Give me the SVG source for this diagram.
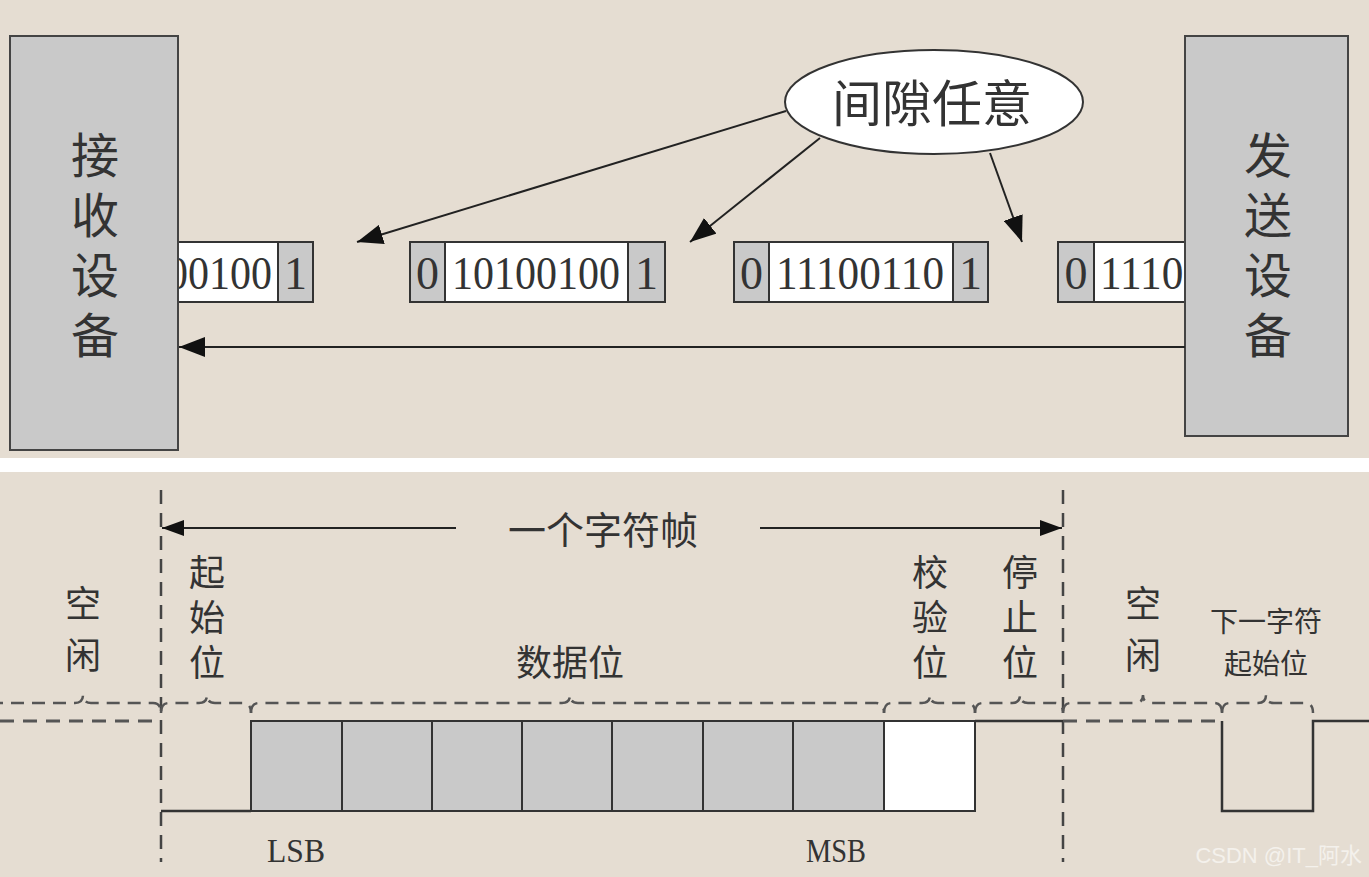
<svg xmlns="http://www.w3.org/2000/svg" width="1369" height="877" viewBox="0 0 1369 877">
<defs>
<marker id="ahb" viewBox="0 0 10 10" refX="10" refY="5" markerWidth="26" markerHeight="20" markerUnits="userSpaceOnUse" orient="auto" preserveAspectRatio="none">
<path d="M0,0 L10,5 L0,10 z" fill="#111"/>
</marker>
<marker id="ahs" viewBox="0 0 10 10" refX="10" refY="5" markerWidth="22" markerHeight="16" markerUnits="userSpaceOnUse" orient="auto" preserveAspectRatio="none">
<path d="M0,0 L10,5 L0,10 z" fill="#111"/>
</marker>
</defs>
<style>
.bg{fill:#e5ddd2}
.dev{fill:#c9c9c9;stroke:#444;stroke-width:2}
.cell{fill:#c9c9c9;stroke:#333;stroke-width:2}
.wcell{fill:#fff;stroke:#333;stroke-width:2}
.cjk{font-family:"Noto Sans CJK SC","Noto Sans CJK JP",sans-serif;fill:#333;text-anchor:middle;dominant-baseline:central}
.vt{font-family:"Noto Sans CJK SC","Noto Sans CJK JP",sans-serif;fill:#333;writing-mode:vertical-rl;text-anchor:start}
.dig{font-family:"Liberation Serif",serif;fill:#333;font-size:46px}
.ln{stroke:#222;stroke-width:2;fill:none}
.dash{stroke:#555;stroke-width:3;fill:none;stroke-dasharray:14 9}
.vdash{stroke:#444;stroke-width:2.5;fill:none;stroke-dasharray:14 9}
.brace{stroke:#555;stroke-width:2.5;fill:none;stroke-dasharray:13 8}
.sig{stroke:#333;stroke-width:2.5;fill:none}
.gcell{fill:#c9c9c9;stroke:#333;stroke-width:2}
</style>
<rect x="0" y="0" width="1369" height="877" fill="#ffffff"/>
<rect class="bg" x="0" y="0" width="1369" height="458"/>
<rect class="bg" x="0" y="472" width="1369" height="405"/>

<g id="frame1">
<rect class="wcell" x="170" y="242" width="108" height="60"/>
<text class="dig" x="272" y="289" text-anchor="end" textLength="105" lengthAdjust="spacingAndGlyphs">00100</text>
<rect class="cell" x="278" y="242" width="35" height="60"/>
<text class="dig" x="295.5" y="289" text-anchor="middle">1</text>
</g>
<g id="frame2">
<rect class="wcell" x="410" y="242" width="255" height="60"/>
<rect class="cell" x="410" y="242" width="35" height="60"/>
<rect class="cell" x="628" y="242" width="37" height="60"/>
<text class="dig" x="427.5" y="289" text-anchor="middle">0</text>
<text class="dig" x="452" y="289" textLength="168" lengthAdjust="spacingAndGlyphs">10100100</text>
<text class="dig" x="646.5" y="289" text-anchor="middle">1</text>
</g>
<g id="frame3">
<rect class="wcell" x="734" y="242" width="254" height="60"/>
<rect class="cell" x="734" y="242" width="35" height="60"/>
<rect class="cell" x="953" y="242" width="35" height="60"/>
<text class="dig" x="751.5" y="289" text-anchor="middle">0</text>
<text class="dig" x="776" y="289" textLength="168" lengthAdjust="spacingAndGlyphs">11100110</text>
<text class="dig" x="970.5" y="289" text-anchor="middle">1</text>
</g>
<g id="frame4">
<rect class="wcell" x="1058" y="242" width="135" height="60"/>
<rect class="cell" x="1058" y="242" width="36" height="60"/>
<text class="dig" x="1076" y="289" text-anchor="middle">0</text>
<text class="dig" x="1100" y="289" textLength="105" lengthAdjust="spacingAndGlyphs">11100</text>
</g>

<g id="receiver">
<rect class="dev" x="10" y="36" width="168" height="414"/>
<text class="vt" x="95" y="131" font-size="48" letter-spacing="12">接收设备</text>
</g>
<g id="sender">
<rect class="dev" x="1185" y="36" width="163" height="400"/>
<text class="vt" x="1268" y="131" font-size="48" letter-spacing="12">发送设备</text>
</g>

<g id="gap-label">
<ellipse cx="934" cy="102" rx="149" ry="52" fill="#fff" stroke="#333" stroke-width="2"/>
<text class="cjk" x="932" y="100" font-size="50">间隙任意</text>
</g>

<g id="connectors">
<line class="ln" x1="786" y1="111" x2="357" y2="242" marker-end="url(#ahb)"/>
<line class="ln" x1="820" y1="138" x2="690" y2="242" marker-end="url(#ahb)"/>
<line class="ln" x1="990" y1="153" x2="1022" y2="242" marker-end="url(#ahb)"/>
<line class="ln" x1="1185" y1="347" x2="179" y2="347" marker-end="url(#ahb)"/>
<line class="ln" x1="456" y1="528" x2="162" y2="528" marker-end="url(#ahs)"/>
<line class="ln" x1="760" y1="528" x2="1062" y2="528" marker-end="url(#ahs)"/>
</g>

<g id="frame-bounds">
<line class="vdash" x1="161" y1="490" x2="161" y2="862"/>
<line class="vdash" x1="1063" y1="490" x2="1063" y2="862"/>
</g>
<g id="frame-label">
<text class="cjk" x="603" y="527" font-size="38">一个字符帧</text>
</g>

<g id="braces">
<path class="brace" d="M-10,703 L75,703 Q83,703 83,695 Q83,703 91,703 L153,703 Q161,703 161,713"/>
<path class="brace" d="M161,713 Q161,703 169,703 L199,703 Q207,703 207,695 Q207,703 215,703 L243,703 Q251,703 251,713"/>
<path class="brace" d="M251,713 Q251,703 259,703 L562,703 Q570,703 570,695 Q570,703 578,703 L876,703 Q884,703 884,713"/>
<path class="brace" d="M884,713 Q884,703 892,703 L922,703 Q930,703 930,695 Q930,703 938,703 L967,703 Q975,703 975,713"/>
<path class="brace" d="M975,713 Q975,703 983,703 L1012,703 Q1020,703 1020,695 Q1020,703 1028,703 L1055,703 Q1063,703 1063,713"/>
<path class="brace" d="M1063,713 Q1063,703 1071,703 L1135,703 Q1143,703 1143,695 Q1143,703 1151,703 L1214,703 Q1222,703 1222,713"/>
<path class="brace" d="M1222,713 Q1222,703 1230,703 L1258,703 Q1266,703 1266,695 Q1266,703 1274,703 L1305,703 Q1313,703 1313,713"/>
</g>

<g id="labels">
<text class="vt" x="83" y="585" font-size="36" letter-spacing="16">空闲</text>
<text class="vt" x="207" y="554" font-size="36" letter-spacing="9">起始位</text>
<text class="cjk" x="570" y="660" font-size="36">数据位</text>
<text class="vt" x="930" y="554" font-size="36" letter-spacing="9">校验位</text>
<text class="vt" x="1020" y="554" font-size="36" letter-spacing="9">停止位</text>
<text class="vt" x="1143" y="585" font-size="36" letter-spacing="16">空闲</text>
<text class="cjk" x="1266" y="620" font-size="28">下一字符</text>
<text class="cjk" x="1266" y="662" font-size="28">起始位</text>
</g>

<g id="signal">
<line class="dash" x1="0" y1="721" x2="161" y2="721"/>
<polyline class="sig" points="161,811 251,811"/>
<rect class="gcell" x="251" y="721" width="91" height="90"/>
<rect class="gcell" x="342" y="721" width="90" height="90"/>
<rect class="gcell" x="432" y="721" width="90" height="90"/>
<rect class="gcell" x="522" y="721" width="90" height="90"/>
<rect class="gcell" x="612" y="721" width="91" height="90"/>
<rect class="gcell" x="703" y="721" width="90" height="90"/>
<rect class="gcell" x="793" y="721" width="91" height="90"/>
<rect class="wcell" x="884" y="721" width="91" height="90"/>
<line class="sig" x1="975" y1="721" x2="1063" y2="721"/>
<line class="dash" x1="1063" y1="721" x2="1222" y2="721"/>
<polyline class="sig" points="1222,721 1222,811 1313,811 1313,721 1369,721"/>
</g>

<g id="bit-labels">
<text x="296" y="862" font-family="Liberation Serif, serif" font-size="34" fill="#333" text-anchor="middle" textLength="58" lengthAdjust="spacingAndGlyphs">LSB</text>
<text x="836" y="862" font-family="Liberation Serif, serif" font-size="34" fill="#333" text-anchor="middle" textLength="60" lengthAdjust="spacingAndGlyphs">MSB</text>
</g>

<text x="1362" y="863" font-family="Liberation Sans, sans-serif" font-size="22" fill="#f4f1ec" text-anchor="end">CSDN @IT_<tspan font-family="Noto Sans CJK SC, sans-serif">阿水</tspan></text>
</svg>
